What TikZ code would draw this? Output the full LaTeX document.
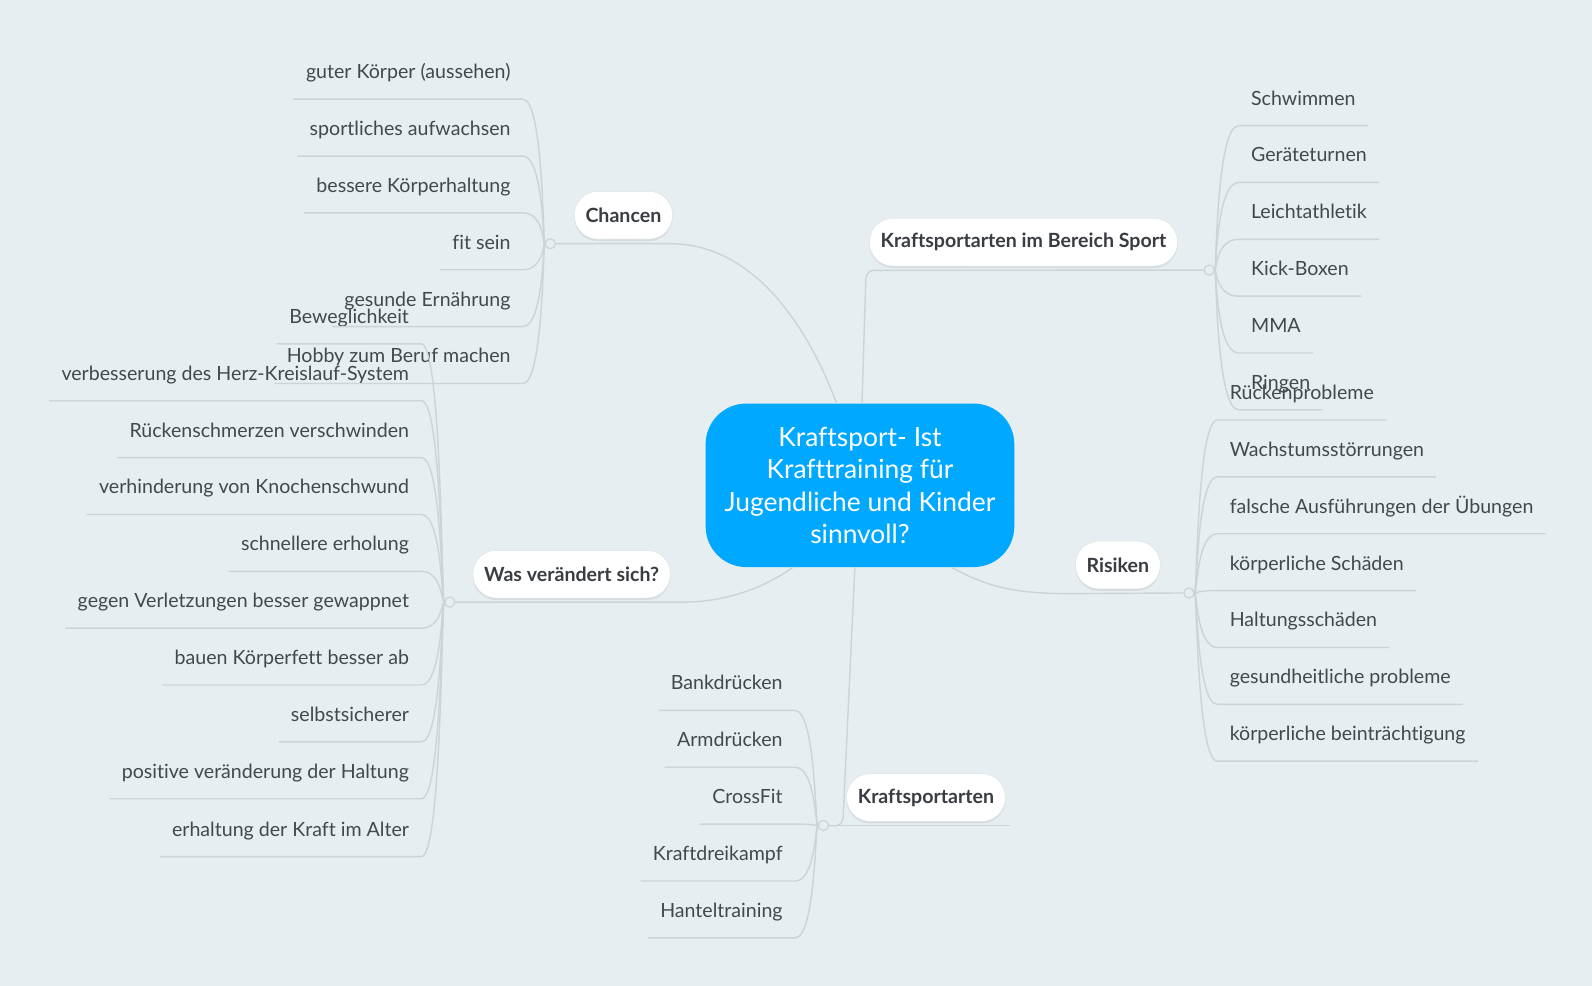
\documentclass[tikz,border=0pt]{standalone}
\usepackage{fontspec}
\setmainfont{Lato}[Ligatures=NoCommon]
\usetikzlibrary{calc,shadows}

\definecolor{bgcol}{HTML}{E6EEF1}
\definecolor{linecol}{HTML}{CDD4D7}
\definecolor{textcol}{HTML}{43484C}
\definecolor{rootcol}{HTML}{00A8FF}

\begin{document}
\begin{tikzpicture}[x=1pt, y=-1pt, font=\fontsize{19.3}{23}\selectfont,
        root node/.style={rectangle, rounded corners=40pt, fill=rootcol, text=white, align=center,
            minimum width=304pt, minimum height=161pt, font=\fontsize{26}{32}\selectfont},
        topic node/.style={rectangle, rounded corners=23pt, fill=white, draw=linecol!70, minimum height=47pt,
            inner xsep=11pt, text=textcol!85!black, font=\fontsize{19.3}{23}\selectfont\bfseries,
            drop shadow={shadow xshift=0pt, shadow yshift=-2pt, opacity=0.15}},
        leaf node/.style={inner xsep=12pt, inner ysep=0pt, text height=14pt, text depth=20pt, text=textcol},
        left leaf/.style={leaf node, anchor=base east},
        right leaf/.style={leaf node, anchor=base west},
        hub/.style={circle, draw=linecol, fill=bgcol, line width=1.2pt, minimum size=10pt, inner sep=0pt},
        link/.style={draw=linecol, line width=1.4pt},
        branch left/.style={link, to path={.. controls (#1) and (#1 |- \tikztotarget.south east)
            .. (\tikztotarget.south east) -- (\tikztotarget.south west)}},
        branch right/.style={link, to path={.. controls (#1) and (#1 |- \tikztotarget.south west)
            .. (\tikztotarget.south west) -- (\tikztotarget.south east)}}]

    \fill[bgcol] (0,0) rectangle (1568,971);

    % Mitte
    \node[root node] (root) at (847,478) {Kraftsport- Ist\\Krafttraining für\\Jugendliche und Kinder\\sinnvoll?};

    % Hauptäste
    \node[topic node] (chancen) at (614,212) {Chancen};
    \node[topic node] (sport) at (1008,238.5) {Kraftsportarten im Bereich Sport};
    \node[topic node] (risiken) at (1101,556.5) {Risiken};
    \node[topic node] (wandel) at (563,565.5) {Was verändert sich?};
    \node[topic node] (arten) at (912,785.5) {Kraftsportarten};

    \node[hub] (hch) at (542,240) {};
    \coordinate (vch) at (535,240);
    \node[hub] (hsp) at (1191,266) {};
    \coordinate (vsp) at (1198,266);
    \node[hub] (hri) at (1171,584) {};
    \coordinate (vri) at (1179,584);
    \node[hub] (hwa) at (443,593) {};
    \coordinate (vwa) at (435,593);
    \node[hub] (hka) at (811,813) {};
    \coordinate (vka) at (803,813);

    % Blätter
    \node[left leaf] (ch1) at (515,77.5) {guter Körper (aussehen)};
    \node[left leaf] (ch2) at (515,133.5) {sportliches aufwachsen};
    \node[left leaf] (ch3) at (515,189.5) {bessere Körperhaltung};
    \node[left leaf] (ch4) at (515,245.5) {fit sein};
    \node[left leaf] (ch5) at (515,301.5) {gesunde Ernährung};
    \node[left leaf] (ch6) at (515,357.5) {Hobby zum Beruf machen};

    \node[right leaf] (sp1) at (1220,103.5) {Schwimmen};
    \node[right leaf] (sp2) at (1220,159.5) {Geräteturnen};
    \node[right leaf] (sp3) at (1220,215.5) {Leichtathletik};
    \node[right leaf] (sp4) at (1220,271.5) {Kick-Boxen};
    \node[right leaf] (sp5) at (1220,327.5) {MMA};
    \node[right leaf] (sp6) at (1220,383.5) {Ringen};

    \node[right leaf] (r1) at (1199,393.5) {Rückenprobleme};
    \node[right leaf] (r2) at (1199,449.5) {Wachstumsstörrungen};
    \node[right leaf] (r3) at (1199,505.5) {falsche Ausführungen der Übungen};
    \node[right leaf] (r4) at (1199,561.5) {körperliche Schäden};
    \node[right leaf] (r5) at (1199,617.5) {Haltungsschäden};
    \node[right leaf] (r6) at (1199,673.5) {gesundheitliche probleme};
    \node[right leaf] (r7) at (1199,729.5) {körperliche beinträchtigung};

    \node[left leaf] (w1) at (415,318.5) {Beweglichkeit};
    \node[left leaf] (w2) at (415,374.5) {verbesserung des Herz-Kreislauf-System};
    \node[left leaf] (w3) at (415,430.5) {Rückenschmerzen verschwinden};
    \node[left leaf] (w4) at (415,486.5) {verhinderung von Knochenschwund};
    \node[left leaf] (w5) at (415,542.5) {schnellere erholung};
    \node[left leaf] (w6) at (415,598.5) {gegen Verletzungen besser gewappnet};
    \node[left leaf] (w7) at (415,654.5) {bauen Körperfett besser ab};
    \node[left leaf] (w8) at (415,710.5) {selbstsicherer};
    \node[left leaf] (w9) at (415,766.5) {positive veränderung der Haltung};
    \node[left leaf] (w10) at (415,823.5) {erhaltung der Kraft im Alter};

    \node[left leaf] (k1) at (783,679.5) {Bankdrücken};
    \node[left leaf] (k2) at (783,735.5) {Armdrücken};
    \node[left leaf] (k3) at (783,791.5) {CrossFit};
    \node[left leaf] (k4) at (783,847.5) {Kraftdreikampf};
    \node[left leaf] (k5) at (783,903.5) {Hanteltraining};

    % Verbindungen zur Mitte
    \draw[link] (hch) -- ++(118,0) .. controls +(80,0) and +(-30,-80) .. ([xshift=-23pt]root.north);
    \draw[link, rounded corners=8pt] ([xshift=2pt]root.north) -- ++(4,-131) -- (hsp);
    \draw[link] ([xshift=90pt]root.south) .. controls +(30,16) and +(-60,0) .. ++(115,26) -- (hri);
    \draw[link] (hwa) -- ++(230,0) .. controls +(45,0) and +(-25,18) .. ([xshift=-66pt]root.south);
    \draw[link, rounded corners=8pt] ([xshift=-5pt]root.south) -- ++(-12,255) -- (hka);
    \draw[link] (hka) -- ++(184,0);

    % Verbindungen zu den Blättern
    \path (hch) edge[branch left=vch] (ch1);
    \path (hch) edge[branch left=vch] (ch2);
    \path (hch) edge[branch left=vch] (ch3);
    \path (hch) edge[branch left=vch] (ch4);
    \path (hch) edge[branch left=vch] (ch5);
    \path (hch) edge[branch left=vch] (ch6);

    \path (hsp) edge[branch right=vsp] (sp1);
    \path (hsp) edge[branch right=vsp] (sp2);
    \path (hsp) edge[branch right=vsp] (sp3);
    \path (hsp) edge[branch right=vsp] (sp4);
    \path (hsp) edge[branch right=vsp] (sp5);
    \path (hsp) edge[branch right=vsp] (sp6);

    \path (hri) edge[branch right=vri] (r1);
    \path (hri) edge[branch right=vri] (r2);
    \path (hri) edge[branch right=vri] (r3);
    \path (hri) edge[branch right=vri] (r4);
    \path (hri) edge[branch right=vri] (r5);
    \path (hri) edge[branch right=vri] (r6);
    \path (hri) edge[branch right=vri] (r7);

    \path (hwa) edge[branch left=vwa] (w1);
    \path (hwa) edge[branch left=vwa] (w2);
    \path (hwa) edge[branch left=vwa] (w3);
    \path (hwa) edge[branch left=vwa] (w4);
    \path (hwa) edge[branch left=vwa] (w5);
    \path (hwa) edge[branch left=vwa] (w6);
    \path (hwa) edge[branch left=vwa] (w7);
    \path (hwa) edge[branch left=vwa] (w8);
    \path (hwa) edge[branch left=vwa] (w9);
    \path (hwa) edge[branch left=vwa] (w10);

    \path (hka) edge[branch left=vka] (k1);
    \path (hka) edge[branch left=vka] (k2);
    \path (hka) edge[branch left=vka] (k3);
    \path (hka) edge[branch left=vka] (k4);
    \path (hka) edge[branch left=vka] (k5);
\end{tikzpicture}
\end{document}
